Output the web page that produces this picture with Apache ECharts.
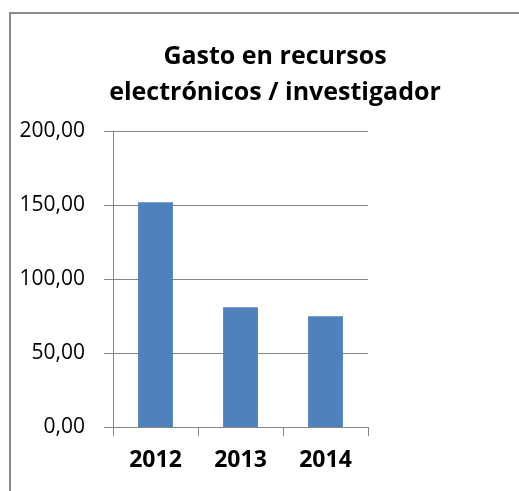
<!DOCTYPE html>
<html>
<head>
<meta charset="utf-8">
<script src="https://cdn.jsdelivr.net/npm/echarts@6/dist/echarts.min.js"></script>
<style>
  html, body { margin: 0; padding: 0; background: #fff; }
  #chart { width: 519px; height: 491px; }
</style>
</head>
<body>
<div id="chart"></div>
<script>
const titleLines = ['Gasto en recursos', 'electrónicos / investigador'];
const categories = ['2012', '2013', '2014'];
const values = [151.8, 80.9, 74.8];
const yTicks = { min: 0, max: 200, interval: 50 };

const chart = echarts.init(document.getElementById('chart'), null, { renderer: 'canvas' });
const gray = '#868686';
chart.setOption({
  animation: false,
  backgroundColor: '#ffffff',
  title: {
    text: titleLines.join('\n'),
    left: 270,
    textAlign: 'center',
    top: 34,
    textStyle: {
      fontFamily: 'Open Sans',
      fontWeight: 'bold',
      fontSize: 25,
      lineHeight: 36,
      color: '#000'
    }
  },
  graphic: [{
    type: 'polyline',
    shape: { points: [[10, 491], [10, 13], [519, 13]] },
    style: { stroke: '#8a8a8a', lineWidth: 2, fill: null },
    silent: true
  }],
  grid: { left: 113, right: 151, top: 131, bottom: 64, containLabel: false },
  xAxis: {
    type: 'category',
    data: categories,
    axisLine: { show: true, lineStyle: { color: gray, width: 1 } },
    axisTick: { show: true, inside: false, length: 9, lineStyle: { color: gray } },
    axisLabel: {
      margin: 22,
      fontFamily: 'Open Sans',
      fontWeight: 'bold',
      fontSize: 23,
      color: '#000'
    }
  },
  yAxis: {
    type: 'value',
    min: yTicks.min,
    max: yTicks.max,
    interval: yTicks.interval,
    axisLine: { show: true, lineStyle: { color: gray, width: 1 } },
    axisTick: { show: true, inside: false, length: 9, lineStyle: { color: gray } },
    splitLine: { show: true, lineStyle: { color: gray, width: 1 } },
    axisLabel: {
      margin: 28,
      fontFamily: 'Open Sans',
      fontSize: 21,
      color: '#000',
      formatter: v => v.toFixed(2).replace('.', ',')
    }
  },
  series: [{
    type: 'bar',
    data: values,
    barWidth: '41%',
    itemStyle: { color: '#4F81BD' }
  }]
});
</script>
</body>
</html>
